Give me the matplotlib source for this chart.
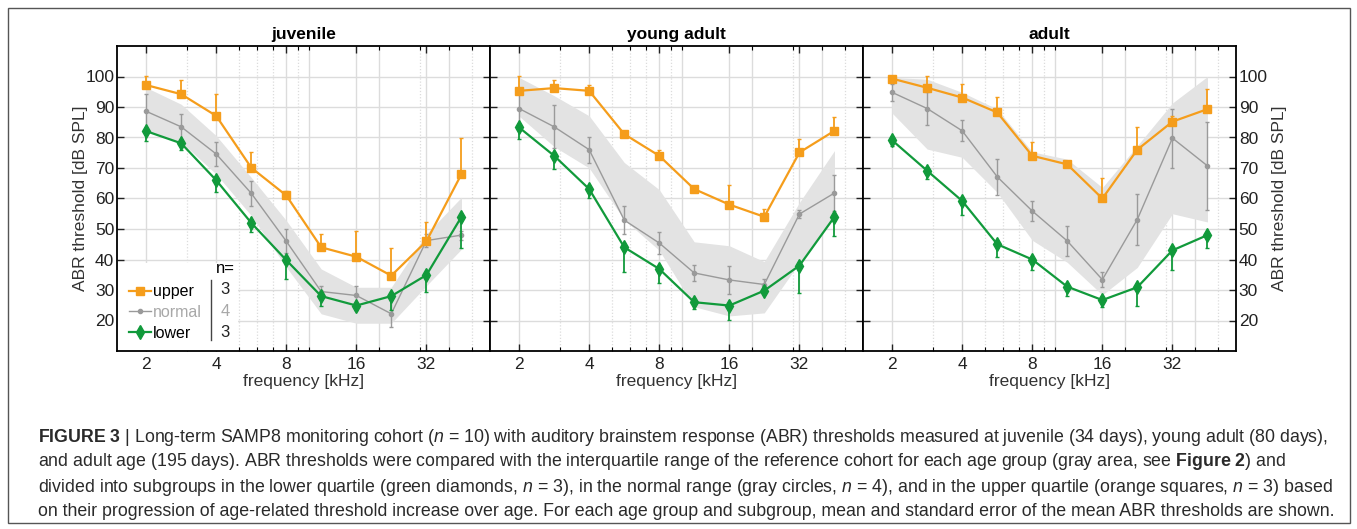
import matplotlib
matplotlib.use('Agg')
import matplotlib.pyplot as plt
from matplotlib.patches import Rectangle
from matplotlib.lines import Line2D
from matplotlib.ticker import FixedLocator, NullFormatter

plt.rcParams['font.family'] = ['Liberation Sans', 'DejaVu Sans']
plt.rcParams['mathtext.fontset'] = 'custom'
plt.rcParams['mathtext.rm'] = 'Liberation Sans'
plt.rcParams['mathtext.it'] = 'Liberation Sans:italic'
plt.rcParams['mathtext.bf'] = 'Liberation Sans:bold'

# frequencies in kHz (half-octave steps)
freqs = [2, 2.83, 4, 5.66, 8, 11.3, 16, 22.6, 32, 45.25]
panel_titles = ['juvenile', 'young adult', 'adult']

# juvenile
juv_upper = [97.2, 94.2, 87.1, 70.1, 61.0, 44.0, 40.9, 34.7, 46.0, 68.0]
juv_upper_err = [3.0, 4.6, 7.3, 5.2, 1.6, 4.3, 8.3, 9.0, 6.2, 11.7]
juv_normal = [88.6, 83.5, 74.6, 61.7, 46.0, 29.5, 28.2, 22.2, 46.2, 48.0]
juv_normal_err = [5.6, 4.2, 4.0, 4.0, 4.0, 1.9, 3.0, 4.4, 2.0, 1.5]
juv_lower = [82.1, 78.1, 66.0, 52.0, 39.8, 28.0, 24.9, 28.0, 34.9, 54.0]
juv_lower_err = [3.1, 2.1, 4.0, 3.1, 6.2, 3.1, 1.6, 4.7, 5.6, 10.1]
juv_band_hi = [96.4, 90.9, 80.6, 66.9, 52.8, 36.9, 30.9, 30.9, 48.4, 60.4]
juv_band_lo = [82.0, 78.5, 68.0, 54.4, 37.5, 22.2, 19.1, 19.1, 31.4, 43.4]

# young adult
ya_upper = [95.3, 96.2, 95.3, 81.1, 74.0, 63.1, 58.0, 54.0, 75.1, 82.2]
ya_upper_err = [4.9, 2.6, 1.9, 0.4, 2.0, 0.4, 6.4, 2.5, 4.4, 4.6]
ya_normal = [89.5, 83.5, 76.0, 52.9, 45.4, 35.6, 33.3, 31.8, 54.9, 61.8]
ya_normal_err = [5.0, 7.1, 4.3, 4.7, 3.5, 2.7, 4.5, 1.8, 1.3, 5.9]
ya_lower = [83.3, 74.0, 63.1, 44.0, 36.9, 26.0, 24.9, 29.8, 38.0, 54.0]
ya_lower_err = [3.8, 4.3, 2.8, 8.0, 4.7, 2.2, 4.6, 1.1, 9.1, 6.2]
ya_band_hi = [99.7, 93.7, 87.1, 71.8, 62.9, 45.8, 44.5, 39.3, 58.7, 75.7]
ya_band_lo = [87.0, 77.0, 70.0, 53.0, 43.0, 24.5, 21.5, 22.5, 39.0, 53.5]

# adult
ad_upper = [99.3, 96.3, 93.1, 88.2, 74.0, 71.2, 60.0, 76.0, 85.2, 89.3]
ad_upper_err = [0.4, 3.9, 4.4, 5.2, 4.4, 0.4, 6.6, 7.6, 1.7, 6.6]
ad_normal = [94.8, 89.5, 82.2, 67.1, 55.9, 46.1, 33.4, 53.1, 79.8, 70.7]
ad_normal_err = [2.7, 5.5, 3.5, 5.8, 3.4, 5.0, 2.4, 8.4, 9.7, 14.5]
ad_lower = [79.1, 69.1, 59.2, 45.0, 40.0, 31.1, 26.7, 30.9, 43.0, 48.0]
ad_lower_err = [1.8, 2.7, 4.6, 4.1, 3.6, 3.2, 2.4, 6.0, 6.3, 4.3]
ad_band_hi = [99.7, 99.1, 94.8, 89.3, 75.3, 72.9, 63.6, 77.3, 91.3, 100.0]
ad_band_lo = [88.0, 76.2, 73.5, 62.0, 46.3, 39.1, 28.4, 37.4, 55.0, 52.3]

group_labels = ['upper', 'normal', 'lower']
group_n = [3, 4, 3]

orange = '#F59D1B'
green = '#119A3B'
gray = '#9A9A9A'
band_col = '#E3E3E3'
grid_col = '#DCDCDC'
fs = 12.5

panels = [
    (juv_upper, juv_upper_err, juv_normal, juv_normal_err, juv_lower, juv_lower_err, juv_band_lo, juv_band_hi),
    (ya_upper, ya_upper_err, ya_normal, ya_normal_err, ya_lower, ya_lower_err, ya_band_lo, ya_band_hi),
    (ad_upper, ad_upper_err, ad_normal, ad_normal_err, ad_lower, ad_lower_err, ad_band_lo, ad_band_hi),
]

W, H = 1357, 529
fig = plt.figure(figsize=(W / 100, H / 100), dpi=100)

lefts = [117, 490, 863]
ax_top, ax_w, ax_h = 46, 373, 305

for i, (left, data) in enumerate(zip(lefts, panels)):
    up, up_e, no, no_e, lo, lo_e, b_lo, b_hi = data
    ax = fig.add_axes([left / W, 1 - (ax_top + ax_h) / H, ax_w / W, ax_h / H])
    ax.set_xscale('log', base=2)
    ax.set_xlim(1.5, 60)
    ax.set_ylim(10, 110)

    # grid
    ax.set_axisbelow(True)
    ax.grid(True, which='major', color=grid_col, lw=1, ls='-')
    for f in [10, 20, 40]:
        ax.axvline(f, color=grid_col, lw=1, zorder=0.5)
    for f in [3, 5, 6, 7, 9, 30, 50]:
        ax.axvline(f, color=grid_col, lw=0.9, ls=(0, (1, 1.5)), zorder=0.5)

    ax.fill_between(freqs, b_lo, b_hi, color=band_col, lw=0, zorder=1)

    zeros = [0] * len(freqs)
    ax.errorbar(freqs, no, yerr=no_e, color=gray, lw=1, marker='o', ms=3,
                capsize=1.5, elinewidth=1, zorder=3)
    ax.errorbar(freqs, up, yerr=[zeros, up_e], color=orange, lw=1.6, marker='s', ms=5.5,
                capsize=1.5, elinewidth=1.3, zorder=4)
    ax.errorbar(freqs, lo, yerr=[lo_e, zeros], color=green, lw=1.6, marker='d', ms=7.5,
                capsize=1.5, elinewidth=1.3, zorder=5)

    ax.xaxis.set_major_locator(FixedLocator([2, 4, 8, 16, 32]))
    ax.set_xticklabels(['2', '4', '8', '16', '32'])
    ax.xaxis.set_minor_locator(FixedLocator([3, 5, 6, 7, 9, 10, 20, 30, 40, 50]))
    ax.xaxis.set_minor_formatter(NullFormatter())
    ax.set_yticks([20, 30, 40, 50, 60, 70, 80, 90, 100])
    ax.tick_params(which='major', direction='in', top=True, right=True, length=5, width=1,
                   labelsize=fs, pad=2, colors='#222222')
    ax.tick_params(axis='x', which='major', pad=4)
    ax.tick_params(which='minor', direction='in', top=True, right=True, length=3, width=0.8)
    ax.tick_params(axis='y', which='both', labelleft=(i == 0), labelright=(i == 2))
    for s in ax.spines.values():
        s.set_linewidth(1.3)
        s.set_color('black')

    ax.set_title(panel_titles[i], fontsize=fs, fontweight='bold', pad=5)
    ax.set_xlabel('frequency [kHz]', fontsize=fs, labelpad=2, color='#333333')
    if i == 0:
        ax.set_ylabel('ABR threshold [dB SPL]', fontsize=fs, labelpad=-2, color='#333333')
    if i == 2:
        ax.yaxis.set_label_position('right')
        ax.set_ylabel('ABR threshold [dB SPL]', fontsize=fs, labelpad=3, color='#333333')

    if i == 0:
        ax.add_patch(Rectangle((0, 0), 0.324, 0.289, transform=ax.transAxes,
                               facecolor='white', edgecolor='none', zorder=1.2))
        handles = [
            Line2D([], [], color=orange, lw=1.6, marker='s', ms=5.5),
            Line2D([], [], color=gray, lw=1, marker='o', ms=3),
            Line2D([], [], color=green, lw=1.6, marker='d', ms=7.5),
        ]
        leg = ax.legend(handles, group_labels, loc='lower left', bbox_to_anchor=(0.005, 0.0),
                        frameon=False, fontsize=11.5, handlelength=1.35, handletextpad=0.15,
                        labelspacing=0.36, borderaxespad=0.25)
        leg.get_texts()[1].set_color('#A8A8A8')
        leg.set_zorder(6)
        ax.text(0.29, 0.27, 'n=', transform=ax.transAxes, fontsize=12, ha='center',
                va='center', zorder=6)
        for k, (n, yy) in enumerate(zip(group_n, [0.2, 0.128, 0.062])):
            ax.text(0.29, yy, str(n), transform=ax.transAxes, fontsize=12, ha='center',
                    va='center', color='#A8A8A8' if k == 1 else '#222222', zorder=6)
        ax.plot([0.251, 0.251], [0.036, 0.233], transform=ax.transAxes, color='#444444',
                lw=1, zorder=6)

# outer frame
fig.add_artist(Rectangle((8 / W, 1 - 523 / H), 1342 / W, 515 / H, transform=fig.transFigure,
                         facecolor='none', edgecolor='#555555', lw=1))

caption = [
    r'$\mathbf{FIGURE\ 3}$ | Long-term SAMP8 monitoring cohort ($\mathit{n}$ = 10) with auditory brainstem response (ABR) thresholds measured at juvenile (34 days), young adult (80 days),',
    r'and adult age (195 days). ABR thresholds were compared with the interquartile range of the reference cohort for each age group (gray area, see $\mathbf{Figure\ 2}$) and',
    r'divided into subgroups in the lower quartile (green diamonds, $\mathit{n}$ = 3), in the normal range (gray circles, $\mathit{n}$ = 4), and in the upper quartile (orange squares, $\mathit{n}$ = 3) based',
    r'on their progression of age-related threshold increase over age. For each age group and subgroup, mean and standard error of the mean ABR thresholds are shown.',
]
cap_y = [437, 462, 487, 511]
texts = []
for line, yy in zip(caption, cap_y):
    t = fig.text(38 / W, 1 - yy / H, line, fontsize=12, ha='left', va='center',
                 color='#2A2A2A')
    texts.append(t)

fig.canvas.draw()
r = fig.canvas.get_renderer()
width = texts[3].get_window_extent(r).width
scale = (1340 - 38) / width
for t in texts:
    t.set_fontsize(12 * scale)

fig.savefig('out.png', dpi=100)
